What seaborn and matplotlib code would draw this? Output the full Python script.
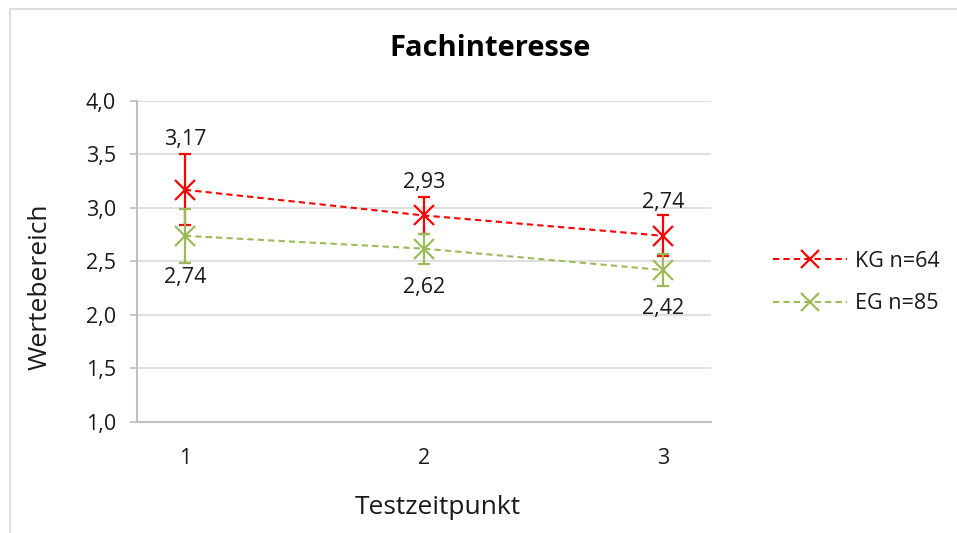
import matplotlib
matplotlib.use("Agg")
import matplotlib.pyplot as plt
import matplotlib.patches as mpatches
import seaborn as sns
import pandas as pd

# Values per measurement point
zeitpunkte = [1, 2, 3]
kg_mean = [3.17, 2.93, 2.74]
kg_err = [0.33, 0.17, 0.19]
eg_mean = [2.74, 2.62, 2.42]
eg_err = [0.25, 0.14, 0.15]
gruppen = ["KG n=64", "EG n=85"]
farben = ["#FF0000", "#9BBB59"]
yticks = [1.0, 1.5, 2.0, 2.5, 3.0, 3.5, 4.0]

df = pd.DataFrame({
    "Testzeitpunkt": zeitpunkte * 2,
    "Wert": kg_mean + eg_mean,
    "Fehler": kg_err + eg_err,
    "Gruppe": [gruppen[0]] * 3 + [gruppen[1]] * 3,
})

sns.set_theme(style="white")
plt.rcParams["font.family"] = ["Open Sans", "DejaVu Sans"]

fig = plt.figure(figsize=(9.57, 5.33), dpi=100)
ax = fig.add_axes([0.1432, 0.2083, 0.5998, 0.6022])

# light outer frame of the chart area
fig.patches.append(mpatches.Rectangle((10 / 957, -0.1), 1.2, 1 - 9 / 533 + 0.1,
                                      transform=fig.transFigure, fill=False,
                                      edgecolor="#d9d9d9", linewidth=1.2))

palette = dict(zip(gruppen, farben))

# dashed mean lines with x markers
sns.lineplot(data=df, x="Testzeitpunkt", y="Wert", hue="Gruppe", palette=palette,
             hue_order=gruppen, linewidth=1.5, ax=ax, zorder=4, legend=False)
for line, c in zip(ax.lines, farben):
    line.set_dashes([3, 2])
    line.set_marker("x")
    line.set_markersize(15)
    line.set_markeredgewidth(1.6)
    line.set_markeredgecolor(c)

# error bars
for g, c in zip(gruppen, farben):
    sub = df[df["Gruppe"] == g]
    ax.errorbar(sub["Testzeitpunkt"], sub["Wert"], yerr=sub["Fehler"], fmt="none",
                ecolor=c, elinewidth=1.6, capsize=4.5, capthick=1.6, zorder=3)

# data labels
kg_off = [36, 24, 24]
eg_off = [-30, -28, -28]
for x, y, o in zip(zeitpunkte, kg_mean, kg_off):
    ax.annotate(f"{y:.2f}".replace(".", ","), (x, y), xytext=(0, o),
                textcoords="offset points", ha="center", va="center",
                fontsize=15.5, color="#1a1a1a")
for x, y, o in zip(zeitpunkte, eg_mean, eg_off):
    ax.annotate(f"{y:.2f}".replace(".", ","), (x, y), xytext=(0, o),
                textcoords="offset points", ha="center", va="center",
                fontsize=15.5, color="#1a1a1a")

ax.set_xlim(0.8, 3.2)
ax.set_ylim(1.0, 4.0)
ax.set_yticks(yticks)
ax.set_yticklabels([f"{t:.1f}".replace(".", ",") for t in yticks])
ax.set_xticks(zeitpunkte)
ax.set_xticklabels([str(z) for z in zeitpunkte])
ax.grid(axis="y", color="#d9d9d9", linewidth=1.2)
ax.set_axisbelow(True)
for s in ["top", "right"]:
    ax.spines[s].set_visible(False)
for s in ["left", "bottom"]:
    ax.spines[s].set_color("#bfbfbf")
    ax.spines[s].set_linewidth(1.5)
ax.tick_params(axis="y", left=True, length=5, width=1.2, color="#bfbfbf",
               labelsize=15.5, labelcolor="#1a1a1a", pad=10)
ax.tick_params(axis="x", bottom=False, labelsize=15.5, labelcolor="#1a1a1a", pad=13)

ax.set_xlabel("Testzeitpunkt", fontsize=19, color="#1a1a1a")
ax.set_ylabel("Wertebereich", fontsize=19, color="#1a1a1a")
ax.xaxis.label.set_va("center")
ax.yaxis.label.set_va("center")
ax.xaxis.set_label_coords(0.524, -0.268)
ax.yaxis.set_label_coords(-0.169, 0.42)
fig.text(490 / 957, 1 - 48 / 533, "Fachinteresse", ha="center", va="center",
         fontsize=21, fontweight="bold", color="#000000")

handles = [plt.Line2D([], [], color=c, dashes=[3, 2], linewidth=1.5, marker="x",
                      markersize=13, markeredgewidth=1.6) for c in farben]
leg = ax.legend(handles, gruppen, loc="center left", bbox_to_anchor=(1.075, 0.435),
                frameon=False, fontsize=15.5, handlelength=3.4, labelspacing=1.0,
                handletextpad=0.4)
for t in leg.get_texts():
    t.set_color("#1a1a1a")

fig.savefig("out.png", dpi=100, facecolor="white")
